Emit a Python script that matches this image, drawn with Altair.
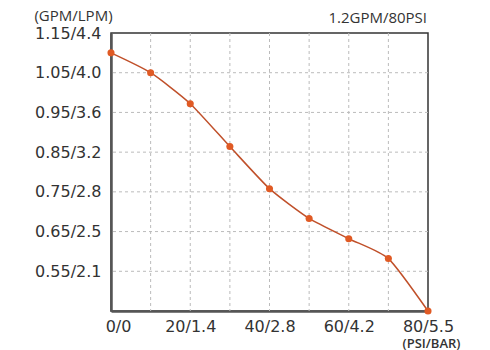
import altair as alt
import pandas as pd

psi = [0, 10, 20, 30, 40, 50, 60, 70, 80]
gpm = [1.10, 1.05, 0.972, 0.864, 0.758, 0.683, 0.632, 0.582, 0.45]

x_ticks = [0, 20, 40, 60, 80]
x_labels = ["0/0", "20/1.4", "40/2.8", "60/4.2", "80/5.5"]
y_ticks = [0.55, 0.65, 0.75, 0.85, 0.95, 1.05, 1.15]
y_labels = ["0.55/2.1", "0.65/2.5", "0.75/2.8", "0.85/3.2", "0.95/3.6", "1.05/4.0", "1.15/4.4"]
x_grid = [10, 20, 30, 40, 50, 60, 70]
y_grid = [0.55, 0.65, 0.75, 0.85, 0.95, 1.05]
title_text = ["1.2GPM/80PSI"]

df = pd.DataFrame({"psi": psi, "gpm": gpm})
gx = pd.DataFrame({"v": x_grid})
gy = pd.DataFrame({"v": y_grid})
tdf = pd.DataFrame({"t": title_text})

x_map = "{" + ",".join(f"'{v}':'{l}'" for v, l in zip(x_ticks, x_labels)) + "}"
y_map = "{" + ",".join(f"'{v:.2f}':'{l}'" for v, l in zip(y_ticks, y_labels)) + "}"

xs = alt.Scale(domain=[0, 80], nice=False, zero=False)
ys = alt.Scale(domain=[0.45, 1.15], nice=False, zero=False)

FONT = "DejaVu Sans"

x_axis = alt.Axis(values=x_ticks, labelExpr=f"{x_map}[format(datum.value,'d')]",
                  grid=False, ticks=False, domainColor="#555", domainWidth=2.5,
                  labelFont=FONT, labelFontSize=16, labelColor="#333", labelPadding=7,
                  labelFlush=False, labelOffset={"condition": {"test": "datum.value == 0", "value": 7}, "value": 0},
                  title="(PSI/BAR)", titleFont="Open Sans", titleFontSize=13, titleFontWeight=600,
                  titleColor="#333", titleX=320, titleY=36, titleAlign="center", titleBaseline="alphabetic")
y_axis = alt.Axis(values=y_ticks, labelExpr=f"{y_map}[format(datum.value,'.2f')]",
                  grid=False, ticks=False, domainColor="#555", domainWidth=2.5,
                  labelFont=FONT, labelFontSize=16, labelColor="#333", labelPadding=10,
                  title="(GPM/LPM)", titleFont="Open Sans", titleFontSize=15, titleFontWeight="normal",
                  titleColor="#333", titleAngle=0, titleX=-38, titleY=-13, titleAlign="center",
                  titleBaseline="alphabetic")

vgrid = alt.Chart(gx).mark_rule(color="#bbb", strokeDash=[3, 3], strokeWidth=1).encode(
    x=alt.X("v:Q", scale=xs, axis=x_axis))
hgrid = alt.Chart(gy).mark_rule(color="#bbb", strokeDash=[3, 3], strokeWidth=1).encode(
    y=alt.Y("v:Q", scale=ys, axis=y_axis))

line = alt.Chart(df).mark_line(color="#c0502a", strokeWidth=1.5, interpolate="cardinal", tension=0.4,
                               clip=False).encode(
    x=alt.X("psi:Q", scale=xs), y=alt.Y("gpm:Q", scale=ys))
pts = alt.Chart(df).mark_circle(color="#e05a24", size=50, opacity=1, clip=False).encode(
    x=alt.X("psi:Q", scale=xs), y=alt.Y("gpm:Q", scale=ys))

title = alt.Chart(tdf).mark_text(font="Open Sans", fontSize=15, color="#333", align="right",
                                 baseline="alphabetic", clip=False).encode(
    text="t:N", x=alt.value(316), y=alt.value(-10))

chart = alt.layer(vgrid, hgrid, line, pts, title).properties(
    width=317, height=278,
    autosize=alt.AutoSizeParams(type="none"),
    padding={"left": 103, "top": 25, "right": 50, "bottom": 42},
).configure_view(stroke="#333", strokeWidth=1.5).configure_axis(labelFontWeight="normal")

chart.save("out.html", embed_options={"renderer": "svg", "actions": False})
